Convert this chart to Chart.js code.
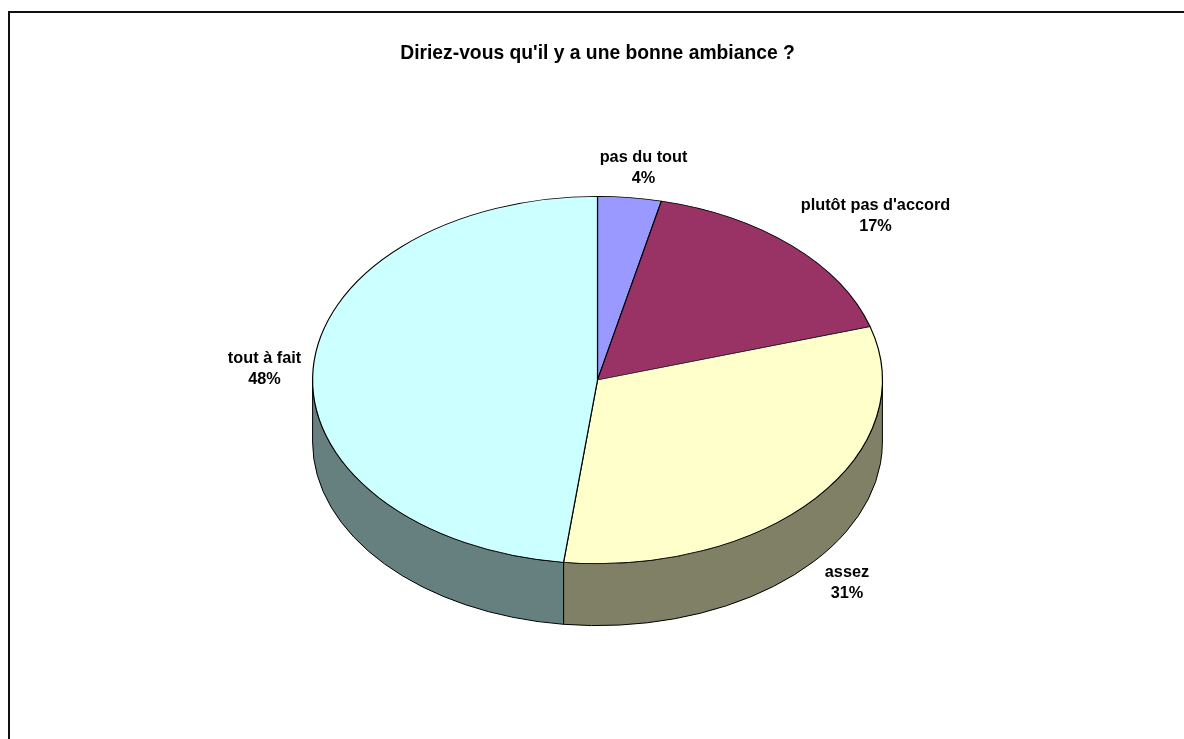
<!DOCTYPE html>
<html>
<head>
<meta charset="utf-8">
<title>Diriez-vous qu'il y a une bonne ambiance ?</title>
<script src="https://cdn.jsdelivr.net/npm/chart.js@4"></script>
<style>
html, body { margin: 0; padding: 0; background: #fff; overflow: hidden; }
canvas { display: block; }
</style>
</head>
<body>
<canvas id="chart_ambiance" width="1184" height="739"></canvas>
<script>
const categories = ["pas du tout", "plutôt pas d'accord", "assez", "tout à fait"];
const values = [3.6, 16.7, 31.6, 48.1];
const percentLabels = ["4%", "17%", "31%", "48%"];
const topColors = ["#9999FF", "#993366", "#FFFFCC", "#CCFFFF"];
const sideColors = ["#4C4C80", "#4C1933", "#808066", "#668080"];

const FONT = '"Liberation Sans", Arial, sans-serif';
const squash = 0.6445; // ellipse hauteur / largeur
const depth = 62;      // epaisseur du camembert

// centre des etiquettes, une par categorie
const labelCenters = [[643.5, 168], [875.5, 216.5], [847, 583], [264.5, 369.5]];

const framePlugin = {
    id: "frame",
    beforeDraw(chart) {
        const ctx = chart.ctx;
        ctx.save();
        ctx.fillStyle = "#fff";
        ctx.fillRect(0, 0, chart.width, chart.height);
        ctx.strokeStyle = "#111";
        ctx.lineWidth = 2;
        ctx.beginPath();
        ctx.moveTo(9, chart.height);
        ctx.lineTo(9, 12);
        ctx.lineTo(chart.width, 12);
        ctx.stroke();
        ctx.restore();
    }
};

const pie3dPlugin = {
    id: "pie3d",
    beforeDatasetsDraw(chart) {
        const ctx = chart.ctx;
        const arcs = chart.getDatasetMeta(0).data;

        // paroi : seulement la moitie avant de chaque part
        arcs.forEach((arc, i) => {
            const { x, y, startAngle, endAngle, outerRadius } = arc.getProps(["x", "y", "startAngle", "endAngle", "outerRadius"]);
            const a0 = Math.max(startAngle, 0);
            const a1 = Math.min(endAngle, Math.PI);
            if (a1 <= a0) return;
            const ry = outerRadius * squash;
            ctx.beginPath();
            ctx.ellipse(x, y, outerRadius, ry, 0, a0, a1);
            ctx.ellipse(x, y + depth, outerRadius, ry, 0, a1, a0, true);
            ctx.closePath();
            ctx.fillStyle = sideColors[i];
            ctx.fill();
            ctx.strokeStyle = "#000";
            ctx.lineWidth = 1;
            ctx.stroke();
        });

        // dessus : meme arcs, ecrases en hauteur
        const first = arcs[0];
        ctx.save();
        ctx.translate(first.x, first.y);
        ctx.scale(1, squash);
        ctx.translate(-first.x, -first.y);
    },
    afterDatasetsDraw(chart) {
        const ctx = chart.ctx;
        ctx.restore();

        ctx.save();
        ctx.fillStyle = "#000";
        ctx.font = "bold 16.3px " + FONT;
        ctx.textAlign = "center";
        ctx.textBaseline = "middle";
        categories.forEach((cat, i) => {
            const [lx, ly] = labelCenters[i];
            ctx.fillText(cat, lx, ly - 10.5);
            ctx.fillText(percentLabels[i], lx, ly + 10.5);
        });
        ctx.restore();
    }
};

new Chart(document.getElementById("chart_ambiance").getContext("2d"), {
    type: "pie",
    data: {
        labels: categories,
        datasets: [{
            data: values,
            backgroundColor: topColors,
            borderColor: "#000",
            borderWidth: 1.2
        }]
    },
    options: {
        responsive: false,
        animation: false,
        events: [],
        layout: { padding: { left: 312, right: 301, top: 42.4, bottom: 73.5 } },
        plugins: {
            legend: { display: false },
            tooltip: { enabled: false },
            title: {
                display: true,
                text: "Diriez-vous qu'il y a une bonne ambiance ?",
                color: "#000",
                font: { family: FONT, size: 19.3, weight: "bold", lineHeight: 1.2 },
                padding: { top: 0, bottom: 28.94 }
            }
        }
    },
    plugins: [framePlugin, pie3dPlugin]
});
</script>
</body>
</html>
